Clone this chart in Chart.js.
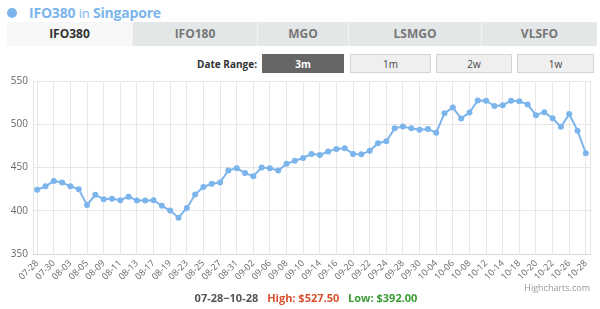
<!DOCTYPE html>
<html>
<head>
<meta charset="utf-8">
<script src="https://cdn.jsdelivr.net/npm/chart.js@4.4.1/dist/chart.umd.min.js"></script>
<style>
  html, body { margin: 0; padding: 0; background: #fff; }
  body { width: 600px; height: 309px; position: relative; overflow: hidden; font-family: "Open Sans", "Noto Sans", sans-serif; }
  .title { position: absolute; left: 29px; top: 3px; font-size: 14px; font-weight: bold; color: #7cb5ec; white-space: nowrap; line-height: 20px; letter-spacing: -0.2px; }
  .title .in { font-weight: normal; font-size: 13px; }
  .dot { position: absolute; left: 7px; top: 8px; width: 10px; height: 10px; border-radius: 50%; background: #7cb5ec; }
  .tab { position: absolute; top: 22px; height: 24px; line-height: 24px; text-align: center; font-size: 12px; font-weight: bold; color: #777; background: #e4e7e8; box-sizing: border-box; border-right: 1px solid #f4f4f4; }
  .tab.active { background: #f7f7f7; color: #333; }
  .lbl { position: absolute; right: 343px; top: 56px; line-height: 16px; font-size: 10px; font-weight: bold; color: #333; }
  .btn { position: absolute; top: 54px; height: 19px; line-height: 19px; text-align: center; font-size: 10px; color: #444; background: #efefef; border: 1px solid #d4d4d4; box-sizing: border-box; }
  .btn.active { background: #666; color: #fff; font-weight: bold; border-color: #666; }
  #wrap { position: absolute; left: 0; top: 70px; width: 600px; height: 212px; }
  .foot { position: absolute; left: 0; width: 600px; top: 289px; text-align: center; font-size: 11px; font-weight: bold; color: #555; line-height: 18px; padding-left: 12px; box-sizing: border-box; }
  .foot .hi { color: #d9502c; margin-left: 6px; }
  .foot .lo { color: #3a9a34; margin-left: 6px; }
  .credit { position: absolute; right: 10px; top: 281px; font-size: 9px; color: #999; }
</style>
</head>
<body>
<div class="dot"></div>
<div class="title">IFO380 <span class="in">in</span> Singapore</div>
<div class="tab active" style="left:7px;width:126px;">IFO380</div>
<div class="tab" style="left:133px;width:125px;">IFO180</div>
<div class="tab" style="left:258px;width:91px;">MGO</div>
<div class="tab" style="left:349px;width:133px;">LSMGO</div>
<div class="tab" style="left:482px;width:115px;border-right:none;">VLSFO</div>
<div class="lbl">Date Range:</div>
<div class="btn active" style="left:262px;width:82px;">3m</div>
<div class="btn" style="left:350px;width:81px;">1m</div>
<div class="btn" style="left:436px;width:76px;">2w</div>
<div class="btn" style="left:517px;width:77px;">1w</div>
<div id="wrap"><canvas id="c"></canvas></div>
<div class="credit">Highcharts.com</div>
<div class="foot">07-28−10-28 <span class="hi">High: $527.50</span> <span class="lo">Low: $392.00</span></div>
<script>
const dates = [
  "07-28","07-29","07-30","07-31","08-03","08-04","08-05","08-06","08-09","08-10",
  "08-11","08-12","08-13","08-14","08-17","08-18","08-19","08-20","08-23","08-24",
  "08-25","08-26","08-27","08-28","08-31","09-01","09-02","09-03","09-06","09-07",
  "09-08","09-09","09-10","09-11","09-14","09-15","09-16","09-17","09-20","09-21",
  "09-22","09-23","09-24","09-25","09-28","09-29","09-30","10-01","10-04","10-05",
  "10-06","10-07","10-08","10-09","10-12","10-13","10-14","10-15","10-18","10-19",
  "10-20","10-21","10-22","10-25","10-26","10-27","10-28"
];
const prices = [
  424.25,428.25,434.25,432.75,428.25,424.75,406.75,418.5,413.25,414,
  412.25,416.25,411.75,411.75,412.25,405.75,400.25,392,403.25,418.75,
  427.5,431.25,432.75,446.5,449.25,443.5,440,450,449.25,446.5,
  454.25,457.75,461,465.75,464.5,468.5,471.5,472.25,465.75,465.25,
  469.25,478,480.25,495.25,497.5,495.25,493.75,494.5,490.25,512.75,
  519.25,506.75,513.5,527.5,527.25,521,522,527.25,526.5,522.75,
  510.5,514,507,497,511.75,492.5,466.5
];
const yTicks = [350, 400, 450, 500, 550];

const rightEdge = {
  id: 'rightEdge',
  afterDraw(chart) {
    const a = chart.chartArea, ctx = chart.ctx;
    ctx.save();
    ctx.strokeStyle = '#e6e6e6';
    ctx.lineWidth = 1;
    ctx.beginPath();
    ctx.moveTo(Math.round(a.right) + 0.5, a.top);
    ctx.lineTo(Math.round(a.right) + 0.5, a.bottom);
    ctx.stroke();
    ctx.restore();
  }
};

new Chart(document.getElementById('c'), {
  type: 'line',
  data: {
    labels: dates,
    datasets: [{
      data: prices,
      borderColor: '#7cb5ec',
      backgroundColor: '#7cb5ec',
      borderWidth: 2,
      pointRadius: 3,
      pointBorderWidth: 0,
      pointBackgroundColor: '#7cb5ec',
      tension: 0,
      fill: false
    }]
  },
  options: {
    responsive: true,
    maintainAspectRatio: false,
    animation: false,
    layout: { padding: { top: 9.5, right: 10, left: 0, bottom: 0 } },
    plugins: { legend: { display: false }, tooltip: { enabled: false } },
    scales: {
      x: {
        offset: true,
        grid: {
          color: (ctx) => (ctx.index % 2 === 0 ? '#e6e6e6' : 'rgba(0,0,0,0)'),
          drawTicks: false,
          offset: false
        },
        border: { color: '#d8d8d8' },
        ticks: {
          autoSkip: false,
          minRotation: 45,
          maxRotation: 45,
          padding: 4,
          color: '#666',
          font: { size: 9, family: '"Open Sans", sans-serif' },
          callback: function(v, i) { return i % 2 === 0 ? dates[i] : ''; }
        },
        afterFit: (s) => { s.height = 28; }
      },
      y: {
        min: yTicks[0],
        max: yTicks[yTicks.length - 1],
        afterBuildTicks: (s) => { s.ticks = yTicks.map(v => ({ value: v })); },
        grid: { color: '#e6e6e6', drawTicks: false },
        border: { color: '#e6e6e6' },
        ticks: {
          padding: 5,
          color: '#666',
          font: { size: 10, family: '"Open Sans", sans-serif' }
        },
        afterFit: (s) => { s.width = 33; }
      }
    }
  },
  plugins: [rightEdge]
});
</script>
</body>
</html>
